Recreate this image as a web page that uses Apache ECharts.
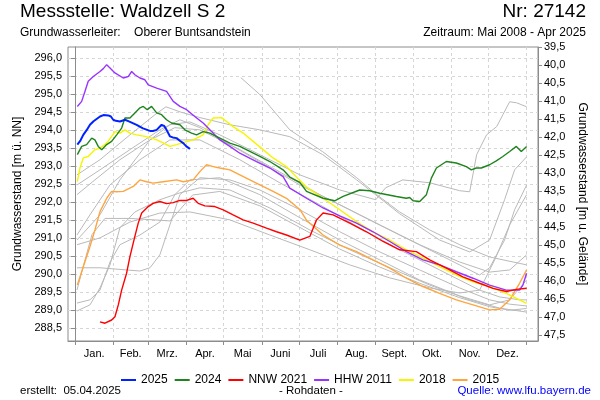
<!DOCTYPE html>
<html><head><meta charset="utf-8">
<script src="https://cdn.jsdelivr.net/npm/echarts@6/dist/echarts.min.js"></script>
<style>html,body{margin:0;padding:0;background:#fff}#c{width:600px;height:400px}</style>
</head><body><div id="c"></div>
<script>
// ---- axis definitions (day of year, elevation in m ü. NN, depth in m u. Gelände)
const monthNames = ['Jan.','Feb.','Mrz.','Apr.','Mai','Juni','Juli','Aug.','Sept.','Okt.','Nov.','Dez.'];
const monthStarts = [0,31,59,90,120,151,181,212,243,273,304,334,365];
const monthMids = [15.5,45,74.5,105,135.5,166,196.5,227.5,258,288.5,319,349.5];
const elevTicks = [288.5,289,289.5,290,290.5,291,291.5,292,292.5,293,293.5,294,294.5,295,295.5,296];
const depthTicks = [39.5,40,40.5,41,41.5,42,42.5,43,43.5,44,44.5,45,45.5,46,46.5,47,47.5];

// ---- highlighted years: [day of year, m ü. NN]
const y2025 = [[1.9,293.60],[4.5,293.72],[6.7,293.87],[9.4,294.0],[12.1,294.15],[15,294.25],[20.2,294.38],[23,294.42],[26.9,294.41],[29,294.38],[30.9,294.29],[33,294.26],[36.3,294.24],[40.4,294.29],[44,294.24],[49.8,294.15],[55,294.05],[60.6,293.98],[63,293.98],[66,294.01],[70,294.15],[72,294.12],[74,294.01],[76.7,293.83],[79,293.80],[82.1,293.78],[85,293.70],[87.5,293.64],[90,293.55],[92.9,293.48]];
const y2024 = [[1.9,293.32],[5.4,293.55],[9.4,293.60],[13.5,293.78],[16.1,293.73],[18.8,293.55],[21.6,293.46],[25.6,293.60],[29.6,293.69],[33.7,293.87],[37.7,294.06],[40.4,294.34],[44.4,294.34],[48.4,294.48],[52.5,294.62],[55.2,294.66],[58.4,294.57],[61.9,294.66],[66,294.48],[70,294.43],[74,294.29],[78,294.20],[84.8,294.15],[88.8,294.01],[94.2,293.92],[98.3,293.87],[103.6,293.96],[109,293.92],[117.1,293.78],[125.2,293.64],[133.2,293.55],[141.3,293.41],[149.4,293.27],[157.5,293.13],[168.2,292.90],[173.6,292.70],[181.7,292.55],[187.1,292.30],[200.5,292.11],[209.9,292.04],[216.7,292.16],[230.1,292.34],[238.2,292.32],[246.3,292.25],[259.8,292.16],[267.8,292.11],[270.5,292.13],[273.2,292.04],[278.6,292.02],[284,292.21],[288,292.67],[292.1,292.95],[300.1,293.13],[308.2,293.09],[316.3,292.99],[320.3,292.90],[324.4,292.95],[328.4,292.95],[335.1,293.04],[340.5,293.15],[345.8,293.27],[351.3,293.41],[356.7,293.55],[360.7,293.41],[365,293.55]];
const nnw2021 = [[20.2,288.68],[24.2,288.64],[29.6,288.73],[32.3,288.82],[35,289.15],[37.7,289.56],[41.7,290.03],[44.4,290.49],[48.4,291.05],[51.1,291.42],[53.9,291.70],[59.2,291.88],[63.2,291.97],[68.6,292.02],[74,291.96],[79.4,291.99],[84.8,292.05],[90.2,292.05],[95.5,292.11],[99.6,291.97],[105,291.90],[113,291.88],[119.8,291.79],[127.8,291.65],[135.9,291.51],[144,291.42],[154.8,291.28],[162.9,291.18],[170.9,291.09],[181.7,290.95],[189.8,291.05],[195.2,291.51],[200.5,291.70],[208.6,291.65],[222.1,291.42],[235.5,291.18],[249,290.91],[262.4,290.68],[275.9,290.63],[286.7,290.40],[300.1,290.17],[313.5,289.93],[327,289.75],[337.8,289.61],[348.6,289.52],[356.7,289.58],[365,289.61]];
const hhw2011 = [[1.9,294.66],[5.4,294.80],[8.1,295.08],[10.7,295.36],[14.8,295.49],[20.2,295.63],[22.9,295.71],[25.6,295.82],[28.3,295.73],[32.3,295.59],[39,295.45],[43,295.49],[45.8,295.63],[48.4,295.54],[52.5,295.45],[56.5,295.40],[59.2,295.26],[66,295.17],[74,295.08],[79.4,294.80],[84.8,294.66],[90.2,294.57],[98.3,294.34],[103.6,294.20],[109,294.01],[117.1,293.73],[125.2,293.55],[133.2,293.36],[146.7,293.13],[157.5,292.95],[168.2,292.71],[173.6,292.39],[187.1,292.11],[200.5,291.84],[214,291.62],[227.5,291.42],[240.9,291.18],[254.4,290.91],[267.8,290.63],[281.2,290.40],[294.7,290.26],[308.2,290.07],[321.7,289.89],[335.1,289.70],[348.6,289.56],[359.3,289.56],[362,289.70],[365,290.03]];
const y2018 = [[1.9,292.57],[4,292.95],[6.7,293.23],[10.7,293.27],[16.1,293.46],[20.2,293.50],[25.6,293.64],[29.6,293.83],[32.3,293.96],[36.3,293.92],[40.4,294.01],[44.4,293.92],[49.8,293.87],[56.5,293.83],[61.9,293.78],[66,293.73],[70,293.67],[76.7,293.55],[82.1,293.60],[88.8,293.67],[95.5,293.73],[103.6,293.87],[107.6,294.15],[111.7,294.34],[118.5,294.35],[122.5,294.24],[127.8,294.10],[135.9,293.92],[144,293.69],[152,293.46],[160.1,293.23],[170.9,292.99],[181.7,292.6],[187,292.42],[200.5,292.11],[214,291.79],[227.5,291.46],[240.9,291.18],[254.4,290.95],[267.8,290.68],[281.2,290.45],[294.7,290.21],[308.2,289.98],[321.7,289.79],[335.1,289.66],[348.6,289.47],[365,289.19]];
const y2015 = [[1.9,289.70],[6.7,290.21],[12.1,290.77],[16.1,291.23],[20.2,291.74],[25.6,292.11],[29.6,292.30],[33.7,292.29],[39,292.30],[47.1,292.44],[52.5,292.62],[57.9,292.57],[63.2,292.53],[71.3,292.57],[82.1,292.62],[87.5,292.57],[95.5,292.62],[100.9,292.85],[106.3,293.04],[111.7,292.99],[117.1,292.95],[125.2,292.90],[133.2,292.76],[141.3,292.62],[149.4,292.48],[160.1,292.30],[170.9,292.11],[181.7,291.8],[187.1,291.5],[200.5,291.09],[214,290.81],[227.5,290.63],[240.9,290.40],[254.4,290.17],[267.8,289.89],[281.2,289.66],[294.7,289.47],[308.2,289.29],[321.7,289.15],[335.1,289.01],[343.2,289.03],[351.3,289.29],[359.3,289.75],[365,290.12]];

// ---- other years (grey)
const g2008 = [[134,295.46],[149.4,294.99],[173.6,294.01],[200.3,293.40],[214,293.04],[227.7,292.68],[243.9,292.21],[262.4,291.73],[286.7,291.23],[310.9,290.82],[335.1,290.48],[365,290.26]];
const g2023 = [[1.6,290.95],[20.2,291.65],[36.3,292.62],[60.6,293.73],[76.7,294.15],[92.9,294.23],[117.1,293.87],[141.3,293.46],[181.7,292.76],[214,292.34],[243.1,292.07],[251,292.40],[264.9,292.62],[286.7,292.54],[310.9,292.32],[319,292.29],[324.6,293.32],[332.6,293.87],[340.8,294.10],[345.8,294.43],[351.3,294.79],[357,294.76],[365,294.65]];
const gA = [[1.6,292.48],[20.2,292.90],[44.4,293.46],[68.6,294.01],[84.8,294.29],[100.9,294.07],[125.2,293.60],[149.4,293.12],[181.7,292.48],[214,291.93],[246.3,291.37],[278.6,290.82],[310.9,290.34],[335.1,290.06],[351.3,290.12],[365,290.54]];
const gB = [[1.6,292.21],[16.1,292.62],[36.3,293.18],[60.6,293.73],[80.7,294.07],[100.9,294.01],[133.2,293.46],[165.5,292.84],[197.8,292.21],[230.1,291.65],[262.4,291.09],[294.7,290.54],[327,289.98],[335.1,290.18],[347.2,290.95],[355.3,291.79],[365,292.48]];
const gC = [[1.6,291.09],[12.1,291.65],[28.3,292.48],[52.5,293.18],[76.7,293.73],[100.9,293.73],[133.2,293.18],[165.5,292.54],[197.8,291.93],[230.1,291.29],[262.4,290.68],[294.7,290.12],[327,289.56],[343.2,289.37],[359.3,289.29],[365,289.29]];
const gD = [[1.6,290.18],[20.2,290.18],[52.5,290.09],[60.6,290.18],[68.6,290.54],[76.7,291.37],[84.8,292.21],[100.9,292.68],[125.2,292.62],[149.4,292.34],[181.7,291.79],[214,291.18],[246.3,290.62],[278.6,290.12],[310.9,289.62],[335.1,289.29],[351.3,289.17],[365,289.12]];
const gE = [[1.6,289.20],[12.1,289.29],[20.2,289.56],[28.3,290.34],[36.3,290.82],[52.5,291.09],[68.6,291.45],[80.7,292.21],[92.9,292.62],[117.1,292.68],[149.4,292.21],[181.7,291.57],[214,290.95],[246.3,290.40],[278.6,289.84],[310.9,289.40],[335.1,289.15],[351.3,289.29],[365,289.84]];
const gF = [[1.6,288.98],[12.1,289.15],[20.2,289.62],[28.3,290.26],[36.3,291.29],[48.4,291.73],[68.6,292.07],[84.8,292.26],[100.9,292.40],[125.2,292.34],[157.5,291.84],[189.8,291.23],[222.1,290.68],[254.4,290.18],[286.7,289.70],[319,289.29],[343.2,289.06],[365,288.95]];
const gG = [[1.6,289.56],[8.1,290.40],[13.7,291.10],[24.2,291.55],[44.4,291.55],[68.6,291.50],[76.7,291.48],[85,291.80],[95,292.20],[117.1,292.30],[149.4,291.90],[181.7,291.30],[214,290.70],[246.3,290.20],[278.6,289.75],[310.9,289.35],[335.1,289.10],[351.3,289.00],[365,289.05]];
const gH = [[1.6,292.76],[20.2,293.18],[44.4,293.87],[64.6,294.43],[73.5,294.65],[84.8,294.51],[100.9,294.35],[125.2,294.15],[149.4,294.01],[173.6,293.82],[200.3,293.32],[227.7,292.62],[262.4,291.68],[294.7,290.95],[319,290.62],[335.1,290.95],[347.2,292.07],[355.3,292.90],[365,293.26]];
const gI = [[1.6,290.82],[20.2,291.01],[44.4,291.45],[68.6,291.70],[92.9,291.73],[125.2,291.51],[157.5,291.09],[189.8,290.68],[222.1,290.26],[254.4,289.90],[286.7,289.62],[310.9,289.48],[327,289.56],[339.2,290.40],[351.3,291.37],[365,292.21]];
const greyYears = [g2008,g2023,gA,gB,gC,gD,gE,gF,gG,gH,gI];

const highlighted = [
  {name:'2015', data:y2015, color:'#ffa53f'},
  {name:'2018', data:y2018, color:'#f5f500'},
  {name:'HHW 2011', data:hhw2011, color:'#9933ff'},
  {name:'NNW 2021', data:nnw2021, color:'#ff0000'},
  {name:'2024', data:y2024, color:'#1e841e'},
  {name:'2025', data:y2025, color:'#0022ff'}
];
const legendOrder = ['2025','2024','NNW 2021','HHW 2011','2018','2015'];

const FONT = '"Liberation Sans", Arial, sans-serif';
const fmt = v => v.toFixed(1).replace('.', ',');
const chart = echarts.init(document.getElementById('c'), null, {renderer:'canvas'});

const series = [];
greyYears.forEach(d => series.push({
  type:'line', data:d, showSymbol:false, silent:true, z:2,
  lineStyle:{color:'#b9b9b9', width:1}
}));
highlighted.forEach(h => series.push({
  name:h.name, type:'line', data:h.data, showSymbol:false, z:3,
  color:h.color, lineStyle:{color:h.color, width: h.name==='2025'?2:1.4}
}));

const gridLine = {show:true, lineStyle:{color:'#d6d6d6', type:[3,3], width:1}};

chart.setOption({
  animation:false,
  grid:{left:68, right:62, top:47, bottom:59, show:true, borderColor:'#8c8c8c', borderWidth:1},
  xAxis:{type:'value', min:-5.65, max:374.2,
    axisLine:{show:true, lineStyle:{color:'#8c8c8c'}},
    axisTick:{show:true, customValues:monthStarts, length:4, lineStyle:{color:'#8c8c8c'}},
    axisLabel:{customValues:monthMids, color:'#000', fontFamily:FONT, fontSize:11, margin:7,
      formatter: v => { let i = monthMids.findIndex(m => Math.abs(m-v)<0.6); return i>=0 ? monthNames[i] : ''; }},
    splitLine:gridLine},
  yAxis:[
    {type:'value', min:288.147, max:296.31, position:'left',
     name:'Grundwasserstand [m ü. NN]', nameLocation:'middle', nameGap:40,
     nameTextStyle:{fontFamily:FONT, fontSize:12, color:'#000'},
     axisLine:{show:true, lineStyle:{color:'#8c8c8c'}},
     axisTick:{show:true, customValues:elevTicks, length:4, lineStyle:{color:'#8c8c8c'}},
     axisLabel:{customValues:elevTicks, formatter:fmt, color:'#000', fontFamily:FONT, fontSize:11, margin:6},
     splitLine:gridLine},
    {type:'value', min:39.5, max:47.66, inverse:true, position:'right',
     name:'Grundwasserstand [m u. Gelände]', nameLocation:'middle', nameGap:37, nameRotate:-90,
     nameTextStyle:{fontFamily:FONT, fontSize:12, color:'#000'},
     axisLine:{show:true, lineStyle:{color:'#8c8c8c'}},
     axisTick:{show:true, customValues:depthTicks, length:4, lineStyle:{color:'#8c8c8c'}},
     axisLabel:{customValues:depthTicks, formatter:fmt, color:'#000', fontFamily:FONT, fontSize:11, margin:6},
     splitLine:{show:false}}
  ],
  legend:{data:legendOrder, top:369, left:116, icon:'rect', itemWidth:15, itemHeight:2, itemGap:7,
    textStyle:{fontFamily:FONT, fontSize:12, color:'#000'}},
  graphic:[
    {type:'text', left:20, top:2, style:{text:'Messstelle: Waldzell S 2', font:'19px '+FONT, fill:'#000'}},
    {type:'text', right:14, top:2, style:{text:'Nr: 27142', font:'19px '+FONT, fill:'#000'}},
    {type:'text', left:20, top:27, style:{text:'Grundwasserleiter:    Oberer Buntsandstein', font:'12px '+FONT, fill:'#000'}},
    {type:'text', right:14, top:27, style:{text:'Zeitraum: Mai 2008 - Apr 2025', font:'12px '+FONT, fill:'#000'}},
    {type:'text', left:20, top:385, style:{text:'erstellt:  05.04.2025', font:'11.5px '+FONT, fill:'#000'}},
    {type:'text', left:279, top:385, style:{text:'- Rohdaten -', font:'11.5px '+FONT, fill:'#000'}},
    {type:'text', right:9, top:385, style:{text:'Quelle: www.lfu.bayern.de', font:'11.5px '+FONT, fill:'#0000ff'}}
  ],
  series: series
});
</script></body></html>
